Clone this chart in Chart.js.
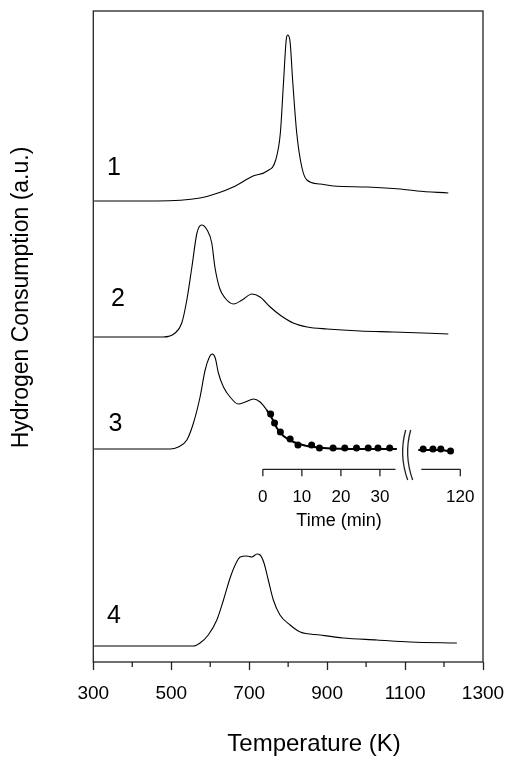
<!DOCTYPE html>
<html>
<head>
<meta charset="utf-8">
<script src="https://cdn.jsdelivr.net/npm/chart.js@4/dist/chart.umd.min.js"></script>
<style>
  html, body { margin: 0; padding: 0; background: #fff; }
</style>
</head>
<body>
<canvas id="myChart" width="520" height="760"></canvas>
<script>
// TPR traces (temperature in K, signal in a.u.)
const temp1 = [302, 463, 574, 620, 659, 710, 746, 768, 780, 788, 795, 799, 805, 812, 822, 835, 848, 882, 916, 1003, 1088, 1131, 1211];
const h2_1  = [461, 461, 464, 469, 475, 486, 491, 502, 529, 579, 622, 627, 620, 579, 529, 495, 482, 478, 476, 475, 473, 471, 469];

const temp2 = [302, 479, 510, 527, 540, 553, 566, 578, 592, 604, 612, 624, 638, 660, 682, 707, 728, 754, 779, 813, 849, 900, 985, 1070, 1211];
const h2_2  = [325, 325, 329, 339, 362, 395, 429, 437, 432, 419, 395, 374, 364, 358, 362, 368, 365, 355, 347, 339, 335, 333, 331, 330, 328];

// null = break of the line where the inset axis is cut
const temp3 = [302, 497, 518, 540, 557, 574, 587, 598, 605, 613, 621, 634, 651, 672, 690, 711, 728, 745, 758, 771, 788, 814, 848, 891, 985, 1079, 1100, 1134, 1190, 1223];
const h2_3  = [213, 213, 215, 222, 239, 265, 292, 305, 308, 304, 289, 275, 265, 258, 260, 263, 260, 252, 244, 234, 226, 220, 216, 214, 213, 213, null, 212, 212, 210];

const temp4 = [302, 557, 574, 595, 617, 634, 651, 664, 677, 694, 707, 720, 728, 738, 749, 762, 779, 805, 831, 882, 941, 1028, 1113, 1233];
const h2_4  = [16, 16, 19, 27, 42, 62, 84, 97, 105, 106, 105, 108, 107, 99, 82, 62, 47, 37, 30, 27, 24, 22, 20, 19];

// inset: isothermal consumption vs time
const timeMin = [2, 3, 4.5, 7, 9, 12.5, 14.5, 18, 21, 24, 27, 29.5, 32.5, 110.5, 113, 115, 117.5];
const h2Time  = [248, 239, 230, 223, 217, 217, 214, 214, 214, 214, 214, 214, 214, 213, 213, 213, 211];

const tempLabels = [300, 500, 700, 900, 1100, 1300];
const timeTicks = [0, 10, 20, 30, 120];
const traceNames = ['1', '2', '3', '4'];

const FONT = "'Liberation Sans', Arial, sans-serif";

// broken time axis: 0-34 min, then 110-120 min
function toInset(t) {
  return t <= 34 ? t : t - 69.41;
}

function pts(xs, ys) {
  return xs.map((x, i) => ({ x: x, y: ys[i] }));
}

function trace(xs, ys) {
  return {
    data: pts(xs, ys),
    showLine: true,
    borderColor: '#000',
    borderWidth: 1.1,
    pointRadius: 0,
    cubicInterpolationMode: 'monotone',
    spanGaps: false,
  };
}

const tail = trace(temp3, h2_3);
tail.segment = {
  borderWidth: ctx => ctx.p0.parsed.x >= 745 ? 2 : 1.1,
};

const data = {
  datasets: [
    trace(temp1, h2_1),
    trace(temp2, h2_2),
    tail,
    trace(temp4, h2_4),
    {
      data: timeMin.map((t, i) => ({ x: toInset(t), y: h2Time[i] })),
      xAxisID: 'xt',
      showLine: false,
      pointRadius: 3.5,
      pointBackgroundColor: '#000',
      pointBorderColor: '#000',
      pointBorderWidth: 0,
    },
  ],
};

const extras = {
  id: 'extras',
  afterDraw(chart) {
    const { ctx, chartArea: a, scales } = chart;
    const x = scales.x, y = scales.y, xt = scales.xt;
    ctx.save();
    ctx.strokeStyle = '#222';
    ctx.fillStyle = '#000';

    // frame
    ctx.lineWidth = 1.3;
    ctx.strokeRect(a.left, a.top, a.right - a.left, a.bottom - a.top);

    // minor ticks on temperature axis
    for (let v = 400; v <= 1200; v += 200) {
      const px = x.getPixelForValue(v);
      ctx.beginPath();
      ctx.moveTo(px, a.bottom);
      ctx.lineTo(px, a.bottom + 5);
      ctx.stroke();
    }

    // axis titles
    ctx.textAlign = 'center';
    ctx.textBaseline = 'middle';
    ctx.font = '24px ' + FONT;
    ctx.fillText('Temperature (K)', 314, 744);
    ctx.save();
    ctx.translate(21.5, 297.5);
    ctx.rotate(-Math.PI / 2);
    ctx.font = '23px ' + FONT;
    ctx.fillText('Hydrogen Consumption (a.u.)', 0, 0);
    ctx.restore();

    // trace numbers
    const numAt = [[353, 494], [363, 363], [357, 238], [353, 46]];
    ctx.font = '25px ' + FONT;
    traceNames.forEach((s, i) => {
      ctx.fillText(s, x.getPixelForValue(numAt[i][0]), y.getPixelForValue(numAt[i][1]));
    });

    // inset time axis
    const ya = y.getPixelForValue(192.7);
    ctx.lineWidth = 1.3;
    [[0, 34], [110, 120]].forEach(seg => {
      ctx.beginPath();
      ctx.moveTo(xt.getPixelForValue(toInset(seg[0])), ya);
      ctx.lineTo(xt.getPixelForValue(toInset(seg[1])), ya);
      ctx.stroke();
    });
    ctx.font = '17px ' + FONT;
    timeTicks.forEach(t => {
      const px = xt.getPixelForValue(toInset(t));
      ctx.beginPath();
      ctx.moveTo(px, ya);
      ctx.lineTo(px, ya + 7);
      ctx.stroke();
      ctx.fillText(String(t), px, ya + 28);
    });
    ctx.font = '18px ' + FONT;
    ctx.fillText('Time (min)', 339, ya + 52);

    // break marks
    const xb = xt.getPixelForValue(toInset(34) + 2.6);
    const yb = y.getPixelForValue(213);
    ctx.lineWidth = 1.3;
    [0, 5].forEach(dx => {
      ctx.beginPath();
      ctx.moveTo(xb + dx, yb - 19);
      ctx.quadraticCurveTo(xb + dx - 7, yb + 6, xb + dx + 2, yb + 31);
      ctx.stroke();
    });

    ctx.restore();
  },
};

const config = {
  type: 'scatter',
  data: data,
  options: {
    responsive: false,
    animation: false,
    layout: { padding: { top: 11, right: 37, left: 0, bottom: 0 } },
    scales: {
      x: {
        type: 'linear',
        min: 300,
        max: 1300,
        border: { display: false },
        grid: {
          drawOnChartArea: false,
          tickLength: 8,
          tickWidth: 1.3,
          tickColor: ctx => tempLabels.includes(ctx.tick.value) ? '#222' : 'rgba(0,0,0,0)',
        },
        ticks: {
          stepSize: 100,
          autoSkip: false,
          maxRotation: 0,
          padding: 12,
          color: '#000',
          font: { family: FONT, size: 19 },
          callback: v => tempLabels.includes(v) ? String(v) : '',
        },
        afterFit: s => { s.height = 98; },
      },
      xt: {
        type: 'linear',
        display: false,
        min: -43.44,
        max: 56.41,
      },
      y: {
        min: 0,
        max: 651,
        border: { display: false },
        grid: { display: false, drawTicks: false },
        ticks: { display: false },
        afterFit: s => { s.width = 93.3; },
      },
    },
    plugins: {
      legend: { display: false },
      tooltip: { enabled: false },
    },
  },
  plugins: [extras],
};

const myChart = new Chart(document.getElementById('myChart'), config);
</script>
</body>
</html>
